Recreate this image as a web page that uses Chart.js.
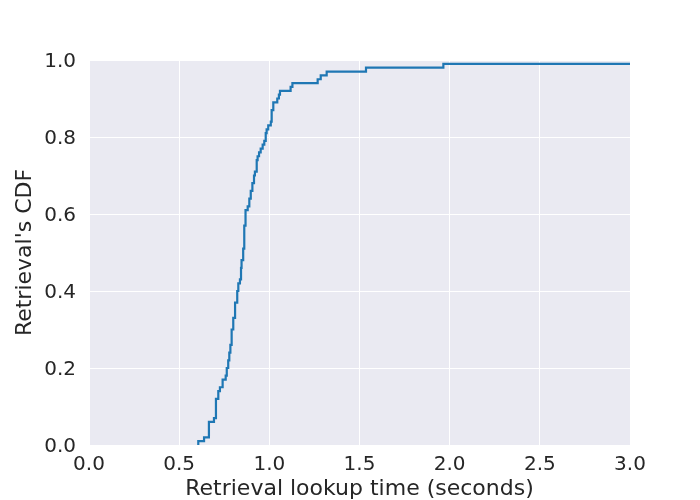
<!DOCTYPE html>
<html>
<head>
<meta charset="utf-8">
<script src="https://cdn.jsdelivr.net/npm/chart.js@4"></script>
<style>
html,body{margin:0;padding:0;background:#fff;}
#c{display:block;}
</style>
</head>
<body>
<canvas id="c" width="700" height="500"></canvas>
<script>
// ECDF step points: lookup time (seconds) and cumulative fraction after that time
const lookupTimes = [0.606, 0.606, 0.638, 0.665, 0.693, 0.704, 0.717, 0.726, 0.741, 0.758, 0.764,
  0.772, 0.778, 0.784, 0.791, 0.800, 0.810, 0.822, 0.828, 0.837, 0.843,
  0.846, 0.855, 0.861, 0.868, 0.880, 0.889, 0.897, 0.906, 0.915,
  0.920, 0.930, 0.935, 0.943, 0.952, 0.963, 0.972, 0.980, 0.985, 0.994, 1.008, 1.013, 1.022,
  1.044, 1.053, 1.059, 1.118, 1.128, 1.268, 1.285, 1.318, 1.536, 1.965, 3.0];
const cdfValues = [0.00, 0.01, 0.02, 0.06, 0.07, 0.12, 0.14, 0.15, 0.17, 0.18, 0.20,
  0.22, 0.24, 0.26, 0.30, 0.33, 0.37, 0.40, 0.42, 0.43, 0.46,
  0.48, 0.51, 0.57, 0.61, 0.62, 0.64, 0.66, 0.68, 0.70,
  0.71, 0.74, 0.75, 0.76, 0.77, 0.78, 0.79, 0.81, 0.82, 0.83, 0.84, 0.87, 0.89,
  0.90, 0.91, 0.92, 0.93, 0.94, 0.95, 0.96, 0.97, 0.98, 0.99, 0.99];
const xTickValues = [0, 0.5, 1.0, 1.5, 2.0, 2.5, 3.0];
const yTickValues = [0, 0.2, 0.4, 0.6, 0.8, 1.0];
const xTitle = 'Retrieval lookup time (seconds)';
const yTitle = "Retrieval's CDF";

const points = lookupTimes.map((x, i) => ({x: x, y: cdfValues[i]}));
const FONT = 'DejaVu Sans';
const TXT = '#262626';

const bgPlugin = {
  id: 'bg',
  beforeDraw(chart) {
    const {ctx, chartArea: a} = chart;
    ctx.save();
    ctx.fillStyle = '#EAEAF2';
    ctx.fillRect(a.left, a.top, a.right - a.left, a.bottom - a.top);
    ctx.restore();
  }
};

new Chart(document.getElementById('c'), {
  type: 'line',
  data: {
    datasets: [{
      data: points,
      borderColor: '#1f77b4',
      borderWidth: 2.2,
      pointRadius: 0,
      stepped: 'before',
      fill: false
    }]
  },
  options: {
    responsive: false,
    animation: false,
    events: [],
    layout: {padding: {left: 0, right: 70, top: 60, bottom: 0}},
    plugins: {legend: {display: false}, tooltip: {enabled: false}},
    scales: {
      x: {
        type: 'linear',
        min: 0, max: 3,
        afterBuildTicks(scale) { scale.ticks = xTickValues.map(v => ({value: v})); },
        afterFit(scale) { scale.height = 55; },
        border: {display: false},
        grid: {color: '#ffffff', lineWidth: 1, drawTicks: false},
        ticks: {
          padding: 8,
          color: TXT,
          font: {family: FONT, size: 20},
          callback: v => Number(v).toFixed(1),
          maxRotation: 0
        },
        title: {display: true, text: xTitle, color: TXT,
          font: {family: FONT, size: 22, lineHeight: 1}, padding: {top: 0, bottom: 0}}
      },
      y: {
        type: 'linear',
        min: 0, max: 1,
        afterBuildTicks(scale) { scale.ticks = yTickValues.map(v => ({value: v})); },
        afterFit(scale) { scale.width = 89; },
        border: {display: false},
        grid: {color: '#ffffff', lineWidth: 1, drawTicks: false},
        ticks: {
          padding: 13,
          labelOffset: 2,
          color: TXT,
          font: {family: FONT, size: 20},
          callback: v => Number(v).toFixed(1)
        },
        title: {display: true, text: yTitle, color: TXT,
          font: {family: FONT, size: 22, lineHeight: 1}, padding: {top: 14, bottom: 0}}
      }
    }
  },
  plugins: [bgPlugin]
});
</script>
</body>
</html>
